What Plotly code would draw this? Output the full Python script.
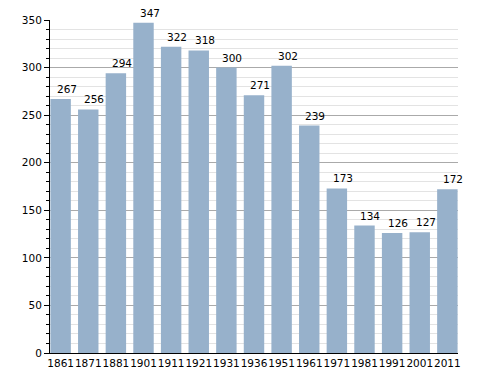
import plotly.graph_objects as go

years = ["1861", "1871", "1881", "1901", "1911", "1921", "1931", "1936",
         "1951", "1961", "1971", "1981", "1991", "2001", "2011"]
population = [267, 256, 294, 347, 322, 318, 300, 271, 302, 239, 173, 134, 126, 127, 172]

idx = list(range(len(years)))
FONT = "DejaVu Sans"
FS = 10.5

fig = go.Figure()
fig.add_trace(go.Bar(x=idx, y=population, marker=dict(color="#97b1cb", line=dict(width=0)),
                     width=0.74, hovertext=years, hoverinfo="text+y"))

for i, v in zip(idx, population):
    fig.add_annotation(x=i, y=v, text=str(v), showarrow=False, xanchor="center",
                       yanchor="bottom", xshift=6, yshift=2,
                       font=dict(family=FONT, size=FS, color="#000"))

# page body has an 8px default margin, so the figure is offset by (8, 8)
fig.update_layout(
    width=480, height=365,
    margin=dict(l=42, r=30, t=12, b=20),
    paper_bgcolor="white", plot_bgcolor="white",
    showlegend=False,
    font=dict(family=FONT, size=FS, color="#000"),
)
fig.update_xaxes(range=[-0.385, len(years) - 1 + 0.385], tickvals=idx, ticktext=years,
                 tickangle=0, automargin=False,
                 showline=True, linecolor="#000", linewidth=1,
                 ticks="", showgrid=False, zeroline=False, tickfont=dict(size=FS))
fig.update_yaxes(range=[0, 350], dtick=50, showline=True, linecolor="#000", linewidth=1,
                 automargin=False,
                 ticks="outside", ticklen=5, tickcolor="#000",
                 showgrid=True, gridcolor="#aaaaaa", gridwidth=1, zeroline=False,
                 minor=dict(dtick=10, ticks="outside", ticklen=3, tickcolor="#000",
                            showgrid=True, gridcolor="#e3e3e3", gridwidth=1),
                 tickfont=dict(size=FS))

fig.write_html("out.html")
